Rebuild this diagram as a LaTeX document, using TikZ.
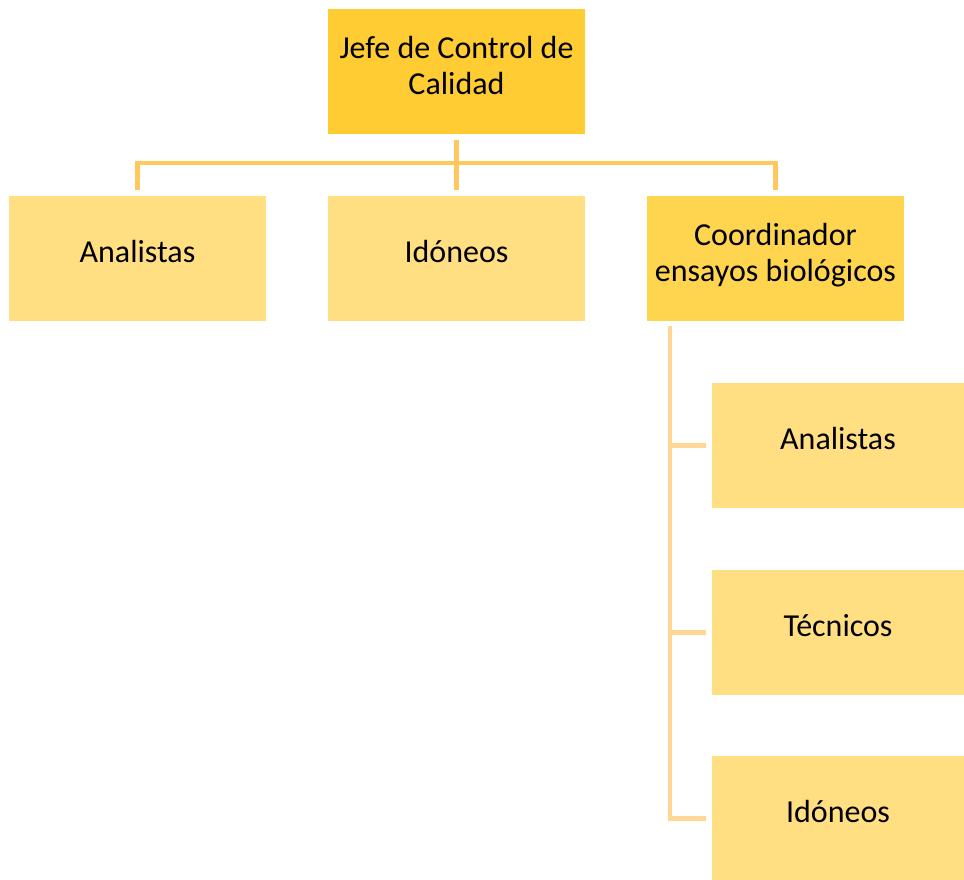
\documentclass[tikz,border=0pt]{standalone}
\usepackage{fontspec}
\setmainfont{Carlito}
\definecolor{headfill}{HTML}{FFCC33}
\definecolor{coordfill}{HTML}{FFD54F}
\definecolor{staffill}{HTML}{FFDF82}
\definecolor{linetop}{HTML}{FFC75C}
\definecolor{lineside}{HTML}{FFD793}
\tikzset{
    unit/.style={fill=staffill, minimum width=192.75pt, minimum height=93.75pt,
        align=center, inner sep=0pt, font=\fontsize{24}{27.4}\selectfont,
        text height=17pt, text depth=11.5pt},
    twoline/.style={text height=44.4pt, text depth=9.2pt},
    conn/.style={draw=linetop, line width=3.6pt},
    connside/.style={draw=lineside, line width=3.6pt}
}
\begin{document}
\begin{tikzpicture}[x=0.75pt, y=-0.75pt]
    \useasboundingbox (0,0) rectangle (964,880);

    % Head of quality control
    \node[unit, twoline, fill=headfill] (jefe) at (456.5,71.5) {Jefe de Control de\\Calidad};

    % Second level
    \node[unit] (analistas) at (137.5,258.5) {Analistas};
    \node[unit] (idoneos) at (456.5,258.5) {Idóneos};
    \node[unit, twoline, fill=coordfill] (coord) at (775.5,258.5) {Coordinador\\ensayos biológicos};

    % Staff under the coordinator
    \node[unit, minimum width=189pt] (analistasB) at (838,445.5) {Analistas};
    \node[unit, minimum width=189pt] (tecnicos) at (838,632.5) {Técnicos};
    \node[unit, minimum width=189pt] (idoneosB) at (838,818.5) {Idóneos};

    % Top branches
    \coordinate (bar) at (456.5,163);
    \draw[conn] ([yshift=-4.5pt]jefe.south) -- ([yshift=-20pt]bar);
    \draw[conn] ([yshift=4.5pt]analistas.north) |- (bar) -| ([yshift=4.5pt]coord.north);
    \draw[conn] (bar) -- ([yshift=4.5pt]idoneos.north);

    % Side branches
    \coordinate (trunk) at (670,326);
    \draw[connside] (trunk) |- ([xshift=-4pt]idoneosB.west);
    \draw[connside] (trunk |- analistasB.west) -- ([xshift=-4pt]analistasB.west);
    \draw[connside] (trunk |- tecnicos.west) -- ([xshift=-4pt]tecnicos.west);
\end{tikzpicture}
\end{document}
